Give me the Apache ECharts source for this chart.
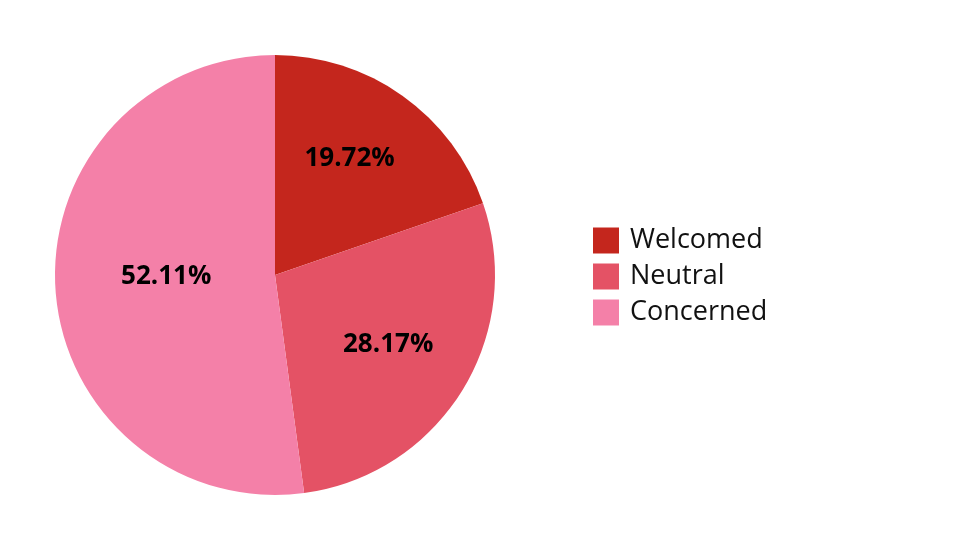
<!DOCTYPE html>
<html><head><meta charset="utf-8">
<script src="https://cdn.jsdelivr.net/npm/echarts@6/dist/echarts.min.js"></script>
<style>html,body{margin:0;padding:0;background:#fff}#c{width:980px;height:551px}</style>
</head><body><div id="c"></div>
<script>
const categories = ["Welcomed", "Neutral", "Concerned"];
const values = [14, 20, 37];
const colors = ["#C4261D", "#E45265", "#F480A8"];
const labelOffsets = [[9, -24], [17, 10], [4, -6]];

const chart = echarts.init(document.getElementById('c'));
chart.setOption({
  animation: false,
  legend: {
    orient: 'vertical', left: 593, top: 227, padding: 0,
    itemWidth: 26, itemHeight: 26, itemGap: 9, icon: 'rect',
    textStyle: {fontFamily: 'Open Sans', fontSize: 27, color: '#111', padding: [0,0,0,6]},
    data: categories
  },
  series: [{
    type: 'pie', center: [275, 275], radius: 220, startAngle: 90, clockwise: true,
    color: colors,
    label: {position: 'inside', formatter: '{d}%', fontFamily: 'Open Sans', fontWeight: 'bold', fontSize: 26, color: '#000'},
    labelLine: {show: false},
    itemStyle: {borderWidth: 0},
    emphasis: {disabled: true},
    data: categories.map((n, i) => ({name: n, value: values[i], label: {offset: labelOffsets[i]}}))
  }]
});
</script></body></html>
